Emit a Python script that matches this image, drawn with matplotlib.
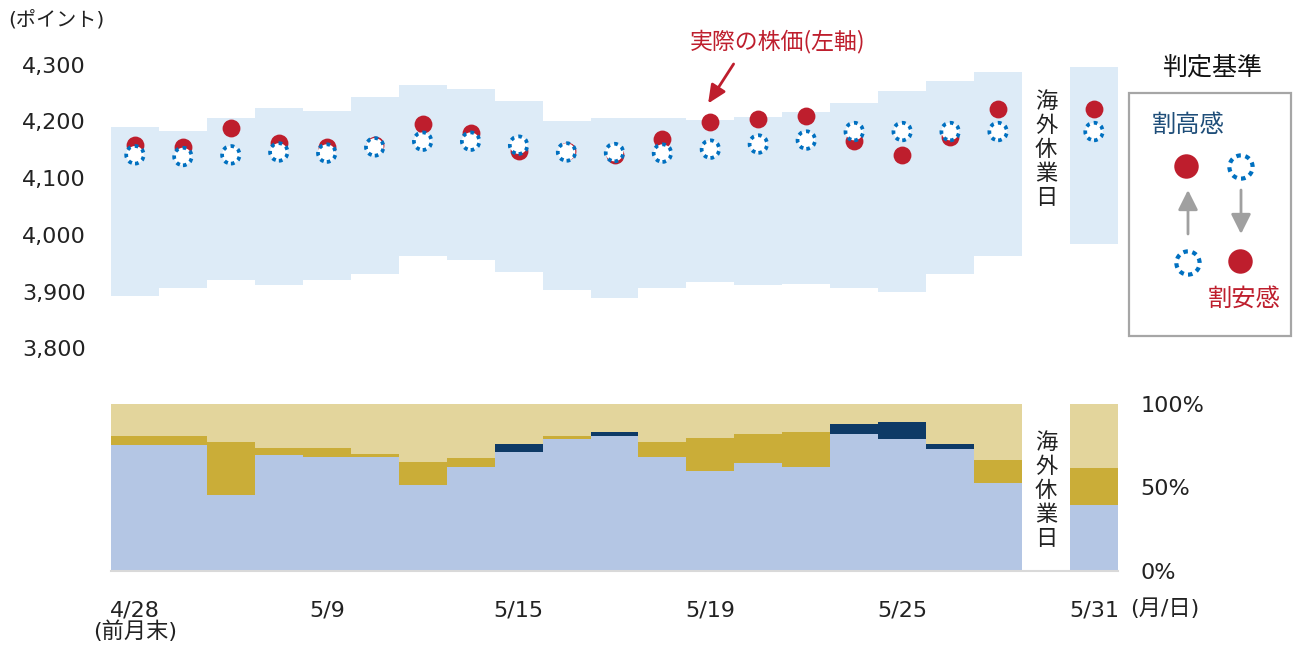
import numpy as np
import matplotlib
matplotlib.use('Agg')
import matplotlib.pyplot as plt
import matplotlib.transforms as mtransforms
from matplotlib.patches import Rectangle

plt.rcParams['font.family'] = ['DejaVu Sans', 'Noto Sans CJK JP']

# trading days (5/30 = overseas holiday, no data)
days = ['4/28', '5/1', '5/2', '5/8', '5/9', '5/10', '5/11', '5/12', '5/15', '5/16', '5/17',
        '5/18', '5/19', '5/22', '5/23', '5/24', '5/25', '5/26', '5/29', '5/30', '5/31']
tick_days = ['4/28', '5/9', '5/15', '5/19', '5/25', '5/31']
tick_names = ['4/28\n(前月末)', '5/9', '5/15', '5/19', '5/25', '5/31']
holiday = '5/30'

# upper panel (points)
band_hi = [4190, 4183, 4205, 4223, 4219, 4243, 4264, 4257, 4236, 4201, 4205,
           4205, 4202, 4208, 4216, 4233, 4254, 4271, 4286, None, 4296]
band_lo = [3893, 3907, 3921, 3911, 3921, 3931, 3963, 3956, 3935, 3903, 3889,
           3907, 3917, 3911, 3914, 3907, 3900, 3931, 3963, None, 3984]
actual = [4158, 4154, 4189, 4161, 4154, 4158, 4196, 4179, 4148, 4148, 4140,
          4169, 4199, 4204, 4210, 4165, 4141, 4172, 4221, None, 4221]
fair = [4141, 4138, 4141, 4146, 4144, 4155, 4165, 4165, 4158, 4146, 4145,
        4144, 4151, 4160, 4167, 4182, 4182, 4182, 4182, None, 4182]

# lower panel (%)
share_blue = [75.3, 75.3, 45.4, 69.3, 67.9, 67.9, 51.4, 61.9, 71.3, 78.7, 80.8,
              67.9, 59.7, 64.3, 62.1, 82.0, 78.7, 72.7, 52.4, None, 39.4]
share_navy = [0, 0, 0, 0, 0, 0, 0, 0, 4.7, 0, 2.4,
              0, 0, 0, 0, 5.8, 10.5, 3.3, 0, None, 0]
share_gold = [5.3, 5.3, 31.8, 4.4, 5.8, 2.0, 13.9, 5.8, 0, 1.9, 0,
              9.3, 19.9, 17.5, 21.1, 0, 0, 0, 13.9, None, 22.3]

RED = '#BE1E2D'
BLUE = '#0070C0'
NAVY = '#1F4E79'

def arr(v):
    return np.array([np.nan if a is None else a for a in v], dtype=float)

hi, lo, act, fv = arr(band_hi), arr(band_lo), arr(actual), arr(fair)
b1, b2, b3 = arr(share_blue), arr(share_navy), arr(share_gold)
b4 = 100 - b1 - b2 - b3

x = np.arange(len(days))
ok = ~np.isnan(hi)
hx = days.index(holiday)

fig = plt.figure(figsize=(12.93, 6.5), dpi=100)
L, W = 111 / 1293, 1007 / 1293
ax1 = fig.add_axes([L, 1 - 395 / 650, W, 335 / 650])
ax2 = fig.add_axes([L, 1 - 571 / 650, W, 167.5 / 650])

# upper panel
ax1.bar(x[ok], hi[ok] - lo[ok], bottom=lo[ok], width=1.0, color='#DDEBF7', linewidth=0)
ax1.scatter(x[ok], act[ok], s=165, color=RED, linewidths=0, zorder=3)
ax1.scatter(x[ok], fv[ok], s=160, facecolors='white', edgecolors=BLUE,
            linewidths=2.7, linestyle=(0, (1, 1.15)), zorder=4)
ax1.set_xlim(-0.5, len(days) - 0.5)
ax1.set_ylim(3718, 4308)
ax1.set_yticks([3800, 3900, 4000, 4100, 4200, 4300])
ax1.set_yticklabels(['{:,}'.format(v) for v in [3800, 3900, 4000, 4100, 4200, 4300]])
ax1.set_xticks([])
ax1.tick_params(axis='y', length=0, pad=18, labelsize=16, labelcolor='#222222')
for s in ax1.spines.values():
    s.set_visible(False)
ax1.text(hx, 4150, '\n'.join('海外休業日'), ha='center', va='center', fontsize=16,
         linespacing=1.05, family='Noto Sans CJK JP', color='#222222')

tip = ax1.transData + mtransforms.ScaledTranslation(-2.3 / 100, 18.4 / 100, fig.dpi_scale_trans)
i19 = days.index('5/19')
ax1.annotate('実際の株価(左軸)', xy=(i19, act[i19]), xycoords=tip,
             xytext=(50, 44.9), textcoords='offset points', ha='center', va='center',
             fontsize=16.5, color=RED, family=['Noto Sans CJK JP', 'DejaVu Sans'],
             arrowprops=dict(arrowstyle='-|>,head_length=0.55,head_width=0.25', color=RED,
                             lw=2, mutation_scale=20, shrinkA=7, shrinkB=0, relpos=(0.29, 0)))

# lower panel
ax2.bar(x[ok], b1[ok], width=1.0, color='#B4C6E4', linewidth=0)
ax2.bar(x[ok], b2[ok], bottom=b1[ok], width=1.0, color='#0E3A66', linewidth=0)
ax2.bar(x[ok], b3[ok], bottom=(b1 + b2)[ok], width=1.0, color='#CAAD38', linewidth=0)
ax2.bar(x[ok], b4[ok], bottom=(b1 + b2 + b3)[ok], width=1.0, color='#E3D59C', linewidth=0)
ax2.set_xlim(-0.5, len(days) - 0.5)
ax2.set_ylim(0, 100)
ax2.yaxis.tick_right()
ax2.set_yticks([0, 50, 100])
ax2.set_yticklabels(['0%', '50%', '100%'])
ax2.set_xticks([days.index(d) for d in tick_days])
ax2.set_xticklabels(tick_names)
first = ax2.get_xticklabels()[0]
first.set_linespacing(1.0)
first.set_multialignment('center')
ax2.tick_params(axis='both', length=0, labelsize=16, labelcolor='#222222')
ax2.tick_params(axis='y', pad=16)
ax2.tick_params(axis='x', pad=21)
for k in ['top', 'left', 'right']:
    ax2.spines[k].set_visible(False)
ax2.spines['bottom'].set_color('#D9D9D9')
ax2.spines['bottom'].set_linewidth(1.5)
ax2.text(hx, 48, '\n'.join('海外休業日'), ha='center', va='center', fontsize=16,
         linespacing=1.05, family='Noto Sans CJK JP', color='#222222')

fig.text(8 / 1293, 1 - 20 / 650, '(ポイント)', va='center', ha='left', fontsize=14.5, color='#222222')
fig.text(1130 / 1293, 1 - 609 / 650, '(月/日)', va='center', ha='left', fontsize=16, color='#222222')

# judgement legend (pixel coords)
ax_o = fig.add_axes([0, 0, 1, 1])
ax_o.set_xlim(0, 1293)
ax_o.set_ylim(650, 0)
ax_o.axis('off')
ax_o.patch.set_alpha(0)
ax_o.add_patch(Rectangle((1129, 93), 162, 243, fill=False, edgecolor='#A6A6A6', lw=1.6))
ax_o.text(1212, 68, '判定基準', ha='center', va='center', fontsize=18, color='#111111')
ax_o.text(1188, 125, '割高感', ha='center', va='center', fontsize=17.5, color=NAVY)
ax_o.text(1244, 299, '割安感', ha='center', va='center', fontsize=17.5, color=RED)
ax_o.scatter([1186, 1240], [166, 261], s=310, color=RED, linewidths=0)
ax_o.scatter([1241, 1188], [167, 263], s=280, facecolors='white', edgecolors=BLUE,
             linewidths=3, linestyle=(0, (1.1, 1.1)))
ax_o.annotate('', xy=(1188, 190), xytext=(1188, 234),
              arrowprops=dict(arrowstyle='-|>,head_length=0.6,head_width=0.3', color='#A0A0A0',
                              lw=2, mutation_scale=20, shrinkA=0, shrinkB=0))
ax_o.annotate('', xy=(1241, 234), xytext=(1241, 190),
              arrowprops=dict(arrowstyle='-|>,head_length=0.6,head_width=0.3', color='#A0A0A0',
                              lw=2, mutation_scale=20, shrinkA=0, shrinkB=0))

fig.savefig('out.png', dpi=100)
